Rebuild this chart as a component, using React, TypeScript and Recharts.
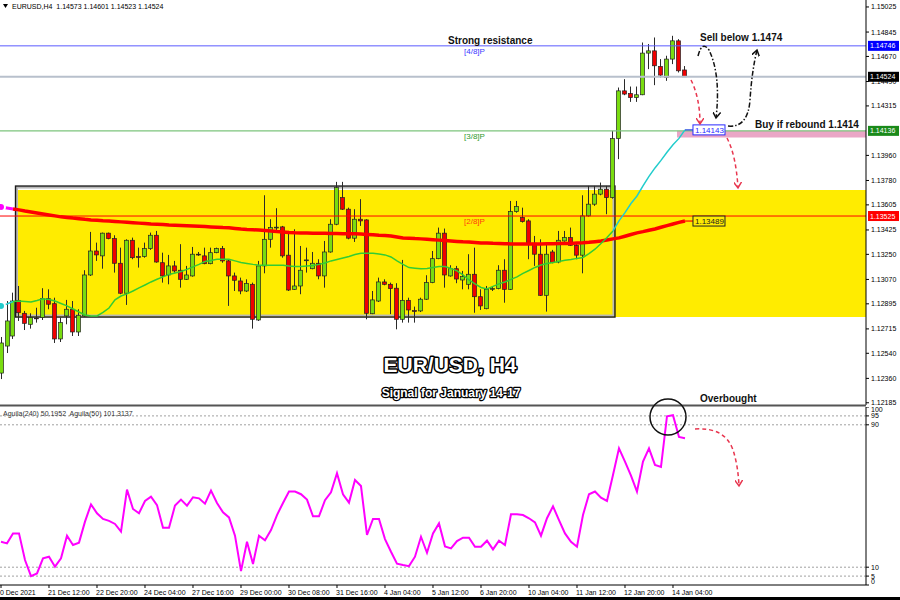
import React from 'react';
import { ComposedChart, Bar, Line, XAxis, YAxis, ReferenceLine, ReferenceArea, ReferenceDot } from 'recharts';

// ---- EURUSD H4 candles (oldest -> newest) ----
const opens = [
  1.12398, 1.12592, 1.12664, 1.12920, 1.12827, 1.12748, 1.12793, 1.12796, 1.12932, 1.12896,
  1.12643, 1.12808, 1.12856, 1.12693, 1.12808, 1.13102, 1.13274, 1.13239, 1.13402, 1.13363,
  1.13186, 1.12971, 1.13351, 1.13234, 1.13234, 1.13291, 1.13387, 1.13190, 1.13102, 1.13167,
  1.13136, 1.13071, 1.13095, 1.13251, 1.13239, 1.13183, 1.13262, 1.13291, 1.13203, 1.13095,
  1.13059, 1.12987, 1.13035, 1.12779, 1.13167, 1.13358, 1.13442, 1.13447, 1.13244, 1.12999,
  1.13023, 1.13208, 1.13147, 1.13186, 1.13095, 1.13267, 1.13466, 1.13657, 1.13574, 1.13366,
  1.13502, 1.13497, 1.12824, 1.12915, 1.13052, 1.13035, 1.13007, 1.12784, 1.12920, 1.12846,
  1.12844, 1.12928, 1.13047, 1.13219, 1.13402, 1.13095, 1.13147, 1.13066, 1.13035, 1.13107,
  1.12946, 1.12860, 1.13002, 1.13004, 1.13136, 1.12999, 1.13557, 1.13514, 1.13490, 1.13330,
  1.13251, 1.12956, 1.13267, 1.13195, 1.13346, 1.13370, 1.13315, 1.13244, 1.13526, 1.13610,
  1.13682, 1.13717, 1.13657, 1.14081, 1.14423, 1.14404, 1.14375, 1.14395, 1.14694, 1.14710,
  1.14598, 1.14519, 1.14651, 1.14782, 1.14573,
];
const highs = [
  1.12657, 1.12915, 1.12975, 1.13023, 1.12844, 1.12827, 1.12867, 1.13007, 1.12999, 1.12939,
  1.12796, 1.12923, 1.12915, 1.12856, 1.13136, 1.13411, 1.13334, 1.13406, 1.13406, 1.13387,
  1.13298, 1.13358, 1.13370, 1.13298, 1.13334, 1.13406, 1.13418, 1.13262, 1.13246, 1.13203,
  1.13323, 1.13167, 1.13303, 1.13267, 1.13298, 1.13298, 1.13298, 1.13310, 1.13215, 1.13119,
  1.13083, 1.13071, 1.13047, 1.13203, 1.13674, 1.13502, 1.13581, 1.13454, 1.13418, 1.13430,
  1.13310, 1.13298, 1.13267, 1.13215, 1.13346, 1.13502, 1.13770, 1.13770, 1.13585, 1.13574,
  1.13646, 1.13502, 1.12987, 1.13083, 1.13071, 1.13047, 1.13043, 1.13210, 1.12939, 1.12875,
  1.12939, 1.13100, 1.13274, 1.13442, 1.13435, 1.13172, 1.13167, 1.13131, 1.13251, 1.13298,
  1.12999, 1.13023, 1.13018, 1.13172, 1.13215, 1.13633, 1.13633, 1.13585, 1.13502, 1.13382,
  1.13358, 1.13334, 1.13282, 1.13418, 1.13418, 1.13442, 1.13334, 1.13674, 1.13741, 1.13741,
  1.13765, 1.13741, 1.14136, 1.14447, 1.14507, 1.14454, 1.14454, 1.14770, 1.14759, 1.14806,
  1.14651, 1.14675, 1.14818, 1.14794, 1.14601,
];
const lows = [
  1.12355, 1.12542, 1.12643, 1.12772, 1.12707, 1.12717, 1.12760, 1.12779, 1.12856, 1.12614,
  1.12621, 1.12748, 1.12664, 1.12664, 1.12803, 1.13095, 1.13203, 1.13147, 1.13358, 1.13119,
  1.12964, 1.12887, 1.13215, 1.13155, 1.13226, 1.13282, 1.13190, 1.13047, 1.13035, 1.13119,
  1.13011, 1.13066, 1.13090, 1.13239, 1.13179, 1.13179, 1.13258, 1.13190, 1.12880, 1.12987,
  1.12964, 1.12980, 1.12717, 1.12772, 1.13114, 1.13298, 1.13418, 1.13226, 1.12987, 1.12995,
  1.12964, 1.13119, 1.13143, 1.13071, 1.13011, 1.13262, 1.13459, 1.13569, 1.13358, 1.13339,
  1.13454, 1.12784, 1.12821, 1.12908, 1.13028, 1.12821, 1.12712, 1.12760, 1.12760, 1.12760,
  1.12836, 1.12923, 1.13043, 1.13215, 1.13011, 1.13090, 1.13043, 1.12999, 1.12999, 1.12831,
  1.12851, 1.12856, 1.12987, 1.12999, 1.12903, 1.12994, 1.13549, 1.13478, 1.13215, 1.13167,
  1.12951, 1.12839, 1.13186, 1.13186, 1.13341, 1.13310, 1.13215, 1.13114, 1.13521, 1.13598,
  1.13674, 1.13538, 1.13650, 1.13933, 1.14392, 1.14344, 1.14344, 1.14392, 1.14579, 1.14464,
  1.14519, 1.14495, 1.14615, 1.14555, 1.14523,
];
const closes = [
  1.12614, 1.12772, 1.12915, 1.12831, 1.12755, 1.12796, 1.12790, 1.12932, 1.12892, 1.12643,
  1.12760, 1.12856, 1.12693, 1.12813, 1.13102, 1.13274, 1.13246, 1.13402, 1.13363, 1.13186,
  1.12971, 1.13351, 1.13226, 1.13231, 1.13291, 1.13387, 1.13195, 1.13095, 1.13167, 1.13131,
  1.13071, 1.13102, 1.13251, 1.13247, 1.13183, 1.13262, 1.13291, 1.13203, 1.13095, 1.13064,
  1.12987, 1.13040, 1.12784, 1.13167, 1.13358, 1.13442, 1.13445, 1.13239, 1.12994, 1.13023,
  1.13136, 1.13210, 1.13186, 1.13095, 1.13267, 1.13466, 1.13729, 1.13574, 1.13366, 1.13502,
  1.13490, 1.12827, 1.12923, 1.13052, 1.13035, 1.13004, 1.12784, 1.12920, 1.12851, 1.12842,
  1.12928, 1.13047, 1.13219, 1.13402, 1.13102, 1.13147, 1.13073, 1.13090, 1.13107, 1.12946,
  1.12880, 1.12999, 1.13005, 1.13136, 1.12999, 1.13557, 1.13593, 1.13485, 1.13330, 1.13251,
  1.12956, 1.13251, 1.13190, 1.13351, 1.13370, 1.13315, 1.13244, 1.13526, 1.13610, 1.13682,
  1.13717, 1.13657, 1.14081, 1.14423, 1.14400, 1.14375, 1.14395, 1.14694, 1.14710, 1.14603,
  1.14536, 1.14651, 1.14782, 1.14567, 1.14524,
];
// slow moving average (red)
const maSlow = [
  1.13590, 1.13583, 1.13576, 1.13569, 1.13561, 1.13554, 1.13547, 1.13540, 1.13533, 1.13526,
  1.13519, 1.13515, 1.13510, 1.13506, 1.13501, 1.13497, 1.13494, 1.13491, 1.13489, 1.13486,
  1.13483, 1.13480, 1.13477, 1.13474, 1.13471, 1.13468, 1.13466, 1.13464, 1.13461, 1.13459,
  1.13457, 1.13455, 1.13453, 1.13451, 1.13449, 1.13447, 1.13445, 1.13442, 1.13440, 1.13436,
  1.13432, 1.13429, 1.13427, 1.13424, 1.13421, 1.13418, 1.13414, 1.13411, 1.13407, 1.13405,
  1.13404, 1.13403, 1.13402, 1.13402, 1.13401, 1.13400, 1.13399, 1.13398, 1.13397, 1.13397,
  1.13396, 1.13393, 1.13390, 1.13387, 1.13385, 1.13382, 1.13375, 1.13368, 1.13366, 1.13363,
  1.13361, 1.13358, 1.13355, 1.13352, 1.13349, 1.13346, 1.13343, 1.13340, 1.13338, 1.13335,
  1.13332, 1.13331, 1.13329, 1.13328, 1.13326, 1.13325, 1.13325, 1.13325, 1.13325, 1.13325,
  1.13325, 1.13326, 1.13326, 1.13327, 1.13327, 1.13328, 1.13331, 1.13333, 1.13336, 1.13341,
  1.13346, 1.13353, 1.13361, 1.13368, 1.13380, 1.13392, 1.13404, 1.13413, 1.13423, 1.13432,
  1.13444, 1.13456, 1.13468, 1.13479, 1.13489,
];
// fast moving average (green / cyan)
const maFast = [
  1.12880, 1.12894, 1.12912, 1.12915, 1.12912, 1.12908, 1.12919, 1.12932, 1.12926, 1.12915,
  1.12897, 1.12880, 1.12858, 1.12836, 1.12815, 1.12808, 1.12808, 1.12833, 1.12865, 1.12923,
  1.12951, 1.12966, 1.12987, 1.13009, 1.13030, 1.13052, 1.13071, 1.13088, 1.13106, 1.13116,
  1.13127, 1.13142, 1.13160, 1.13178, 1.13199, 1.13206, 1.13215, 1.13215, 1.13215, 1.13203,
  1.13192, 1.13185, 1.13178, 1.13172, 1.13172, 1.13172, 1.13172, 1.13172, 1.13167, 1.13163,
  1.13163, 1.13167, 1.13170, 1.13178, 1.13188, 1.13203, 1.13213, 1.13224, 1.13235, 1.13249,
  1.13258, 1.13258, 1.13258, 1.13253, 1.13246, 1.13231, 1.13203, 1.13178, 1.13155, 1.13151,
  1.13147, 1.13149, 1.13156, 1.13163, 1.13163, 1.13149, 1.13131, 1.13102, 1.13066, 1.13038,
  1.13012, 1.13002, 1.13020, 1.13038, 1.13052, 1.13070, 1.13088, 1.13113, 1.13134, 1.13156,
  1.13174, 1.13185, 1.13192, 1.13199, 1.13208, 1.13213, 1.13221, 1.13228, 1.13256, 1.13287,
  1.13328, 1.13371, 1.13418, 1.13490, 1.13549, 1.13615, 1.13669, 1.13741, 1.13809, 1.13870,
  1.13924, 1.13982, 1.14036, 1.14082, 1.14143,
];
// Aguila oscillator (lower panel)
const aguila = [
  24.3, 23.4, 29.0, 29.0, 14.0, 5.0, 6.5, 15.0, 15.9, 10.3,
  15.0, 27.7, 22.5, 23.8, 35.6, 45.3, 40.3, 37.1, 36.0, 34.3,
  30.0, 53.6, 42.7, 40.3, 47.2, 49.6, 44.9, 32.2, 32.2, 44.6,
  48.0, 44.6, 49.3, 48.7, 45.7, 53.0, 46.1, 40.8, 38.0, 27.7,
  7.8, 24.3, 11.8, 27.7, 25.1, 30.9, 39.3, 46.1, 52.5, 52.5,
  51.0, 48.0, 38.6, 38.6, 47.6, 52.1, 62.8, 51.0, 46.3, 59.0,
  55.6, 28.1, 37.1, 37.1, 25.8, 18.7, 12.0, 11.2, 10.6, 15.9,
  27.1, 18.1, 29.0, 34.6, 21.7, 20.6, 24.7, 26.6, 26.6, 21.5,
  21.5, 24.9, 20.0, 24.9, 22.5, 39.7, 39.7, 39.3, 37.5, 35.2,
  27.7, 37.5, 44.2, 36.5, 29.0, 24.3, 21.5, 39.3, 51.0, 52.5,
  49.1, 47.2, 61.8, 76.8, 69.3, 61.5, 52.5, 69.3, 76.8, 67.5,
  66.3, 94.8, 95.4, 83.2, 82.5,
];
const dateTickIdx = [0, 8, 16, 24, 32, 40, 48, 56, 64, 72, 80, 88, 96, 104, 112];
const dateTickLabels = [
  '20 Dec 2021', '21 Dec 12:00', '22 Dec 20:00', '24 Dec 04:00', '27 Dec 16:00',
  '29 Dec 00:00', '30 Dec 08:00', '31 Dec 16:00', '4 Jan 04:00', '5 Jan 12:00',
  '6 Jan 20:00', '10 Jan 04:00', '11 Jan 12:00', '12 Jan 20:00', '14 Jan 04:00',
];
const priceTicks = [
  1.15025, 1.14845, 1.14670, 1.14490, 1.14315, 1.13960, 1.13780, 1.13605,
  1.13425, 1.13250, 1.13070, 1.12895, 1.12715, 1.12540, 1.12360, 1.12185,
];
const oscTicks = [0, 5, 10, 90, 95, 100];
const oscLevels = [95, 90, 10, 5];
// horizontal levels
const levelResist = 1.14746; // [4/8]P
const levelBid = 1.14524;
const levelSupport = 1.14136; // [3/8]P
const levelMid = 1.13525; // [2/8]P
const rangeBoxTop = 1.13740;
const rangeBoxBottom = 1.12800;
const rangeZoneTop = 1.13712;
const buyZoneTop = 1.14136;
const buyZoneBottom = 1.14088;
const rangeStartIdx = 2.42;
const rangeEndIdx = 102.33;
const buyZoneStartIdx = 112.67;

const X_MIN = -0.1667;
const X_MAX = 144.17;
const P_MIN = 1.12169;
const P_MAX = 1.15075;
const FONT = '"Liberation Sans", Arial, sans-serif';

const rows = opens.map((o, i) => ({
  i,
  o,
  h: highs[i],
  l: lows[i],
  c: closes[i],
  range: [lows[i], highs[i]],
  maSlowHead: i <= 2 ? maSlow[i] : null,
  maSlow: i >= 2 ? maSlow[i] : null,
  maGreen: i >= 2 && i <= 102 ? maFast[i] : null,
  maCyan: i <= 2 || i >= 102 ? maFast[i] : null,
  ag: aguila[i],
}));
const last = rows.length - 1;

const Candle = (props: any) => {
  const { x, y, width, height, payload } = props;
  if (!payload || payload.o == null) return null;
  const { o, h, l, c } = payload;
  const top = Math.min(y, y + height);
  const bottom = Math.max(y, y + height);
  const span = h - l;
  const pix = (v: number) => (span > 0 ? top + ((h - v) / span) * (bottom - top) : top);
  const cx = Math.round(x + width / 2) + 0.5;
  const yo = pix(o);
  const yc = pix(c);
  const bt = Math.min(yo, yc);
  const bb = Math.max(yo, yc);
  const up = c >= o;
  return (
    <g>
      <line x1={cx} x2={cx} y1={top} y2={bottom} stroke="#2a2a2a" strokeWidth={1} />
      <rect x={cx - 2} y={bt} width={4} height={Math.max(bb - bt, 0.8)} fill={up ? '#79dc10' : '#f00000'} stroke="#222" strokeWidth={0.7} />
    </g>
  );
};

const LevelLabel = (props: any) => {
  const { viewBox, value, bg, text, textColor } = props;
  if (!viewBox) return null;
  const y = viewBox.y;
  const x0 = viewBox.x + viewBox.width + 2;
  return (
    <g>
      {text ? (
        <text x={464} y={y + 8} fontSize={8} fill={textColor} fontFamily={FONT}>{text}</text>
      ) : null}
      <rect x={x0} y={y - 5} width={31} height={10} fill={bg} />
      <text x={x0 + 2} y={y + 2.6} fontSize={7} fill="#fff" fontFamily={FONT}>{value.toFixed(5)}</text>
    </g>
  );
};

const RangeBox = (props: any) => {
  const { x, y, width, height } = props;
  return (
    <g>
      <rect x={x + 1.5} y={y + 1.5} width={width - 3} height={height - 3} fill="none" stroke="#b8b8b8" strokeWidth={2} />
      <rect x={x} y={y} width={width} height={height} fill="none" stroke="#1a1a1a" strokeWidth={1.4} />
    </g>
  );
};

const EndTag = (color: string, border: string, bg: string, value: number) => (props: any) => {
  const { cx, cy } = props;
  if (cx == null) return null;
  return (
    <g>
      <line x1={cx} x2={cx + 8} y1={cy} y2={cy} stroke={color} strokeWidth={1.2} />
      <rect x={cx + 8} y={cy - 5} width={32} height={10} fill={bg} stroke={border} strokeWidth={1} />
      <text x={cx + 10} y={cy + 3} fontSize={8} fill={border} fontFamily={FONT}>{value.toFixed(5)}</text>
    </g>
  );
};

const DateTick = (props: any) => {
  const { x, y, payload } = props;
  const k = dateTickIdx.indexOf(payload.value);
  const label = k >= 0 ? dateTickLabels[k] : '';
  return (
    <text x={k === 0 ? x - 5 : x - 1} y={y + 5} fontSize={7} fill="#000" textAnchor="start" fontFamily={FONT}>
      {label}
    </text>
  );
};

const OscTick = (props: any) => {
  const { x, y, payload } = props;
  const v = payload.value;
  const dy = v === 100 ? 5 : v === 0 ? -1 : 2.5;
  return (
    <text x={x} y={y + dy} fontSize={7} fill="#000" textAnchor="start" fontFamily={FONT}>{v}</text>
  );
};

export default function App() {
  return (
    <div style={{ position: 'absolute', left: 0, top: 0, width: 900, height: 600, background: '#fff', overflow: 'hidden', fontFamily: FONT }}>
      <div style={{ position: 'absolute', left: 0, top: 0 }}>
        <ComposedChart width={900} height={405} data={rows} margin={{ top: 0, right: 0, bottom: 0, left: 0 }}>
          <XAxis type="number" dataKey="i" domain={[X_MIN, X_MAX]} hide allowDataOverflow />
          <YAxis
            orientation="right"
            width={34}
            domain={[P_MIN, P_MAX]}
            allowDataOverflow
            ticks={priceTicks}
            interval={0}
            tickFormatter={(v: number) => v.toFixed(5)}
            tick={{ fontSize: 7, fill: '#000', fontFamily: FONT }}
            tickSize={3}
            tickMargin={2}
            stroke="#000"
          />
          <ReferenceArea x1={rangeStartIdx} x2={X_MAX} y1={rangeBoxBottom} y2={rangeZoneTop} fill="#ffec00" fillOpacity={1} stroke="none" ifOverflow="visible" />
          <ReferenceArea x1={buyZoneStartIdx} x2={X_MAX} y1={buyZoneBottom} y2={buyZoneTop} fill="#eaa6c6" fillOpacity={1} stroke="none" ifOverflow="visible" />
          <ReferenceArea x1={rangeStartIdx} x2={rangeEndIdx} y1={rangeBoxBottom} y2={rangeBoxTop} shape={<RangeBox />} ifOverflow="visible" />
          <ReferenceLine y={levelResist} stroke="#5a5aff" strokeWidth={1} label={<LevelLabel value={levelResist} bg="#0000ff" text="[4/8]P" textColor="#3a3aff" />} />
          <ReferenceLine y={levelBid} stroke="#b8c0cc" strokeWidth={2} label={<LevelLabel value={levelBid} bg="#000000" />} />
          <ReferenceLine y={levelSupport} stroke="#7cc47c" strokeWidth={1.2} label={<LevelLabel value={levelSupport} bg="#1a8a1a" text="[3/8]P" textColor="#2e9a2e" />} />
          <ReferenceLine y={levelMid} stroke="#ff0000" strokeWidth={1} label={<LevelLabel value={levelMid} bg="#ff0000" text="[2/8]P" textColor="#ff3b10" />} />
          <Bar dataKey="range" barSize={5} shape={<Candle />} isAnimationActive={false} />
          <Line type="linear" dataKey="maSlowHead" stroke="#ff00ff" strokeWidth={3} dot={false} isAnimationActive={false} />
          <Line type="linear" dataKey="maSlow" stroke="#ff0000" strokeWidth={3.5} dot={false} isAnimationActive={false} />
          <Line type="linear" dataKey="maGreen" stroke="#33cc33" strokeWidth={1.5} dot={false} isAnimationActive={false} />
          <Line type="linear" dataKey="maCyan" stroke="#22cccc" strokeWidth={1.5} dot={false} isAnimationActive={false} />
          <ReferenceDot x={last} y={maFast[last]} r={1} shape={EndTag('#2244dd', '#2a2aff', '#ffffff', maFast[last])} ifOverflow="visible" />
          <ReferenceDot x={last} y={maSlow[last]} r={1} shape={EndTag('#ff0000', '#222222', '#ffec00', maSlow[last])} ifOverflow="visible" />
        </ComposedChart>
      </div>
      <div style={{ position: 'absolute', left: 0, top: 407 }}>
        <ComposedChart width={900} height={193} data={rows} margin={{ top: 0, right: 0, bottom: 0, left: 0 }}>
          <XAxis
            type="number"
            dataKey="i"
            domain={[X_MIN, X_MAX]}
            allowDataOverflow
            ticks={dateTickIdx}
            interval={0}
            height={15}
            tickSize={3}
            tickMargin={2}
            tick={<DateTick />}
            stroke="#000"
          />
          <YAxis
            orientation="right"
            width={34}
            domain={[0, 100]}
            allowDataOverflow
            ticks={oscTicks}
            interval={0}
            tick={<OscTick />}
            tickSize={3}
            tickMargin={2}
            stroke="#000"
          />
          {oscLevels.map((v) => (
            <ReferenceLine key={v} y={v} stroke="#a0a0a0" strokeDasharray="2 2" strokeWidth={1} />
          ))}
          <Line type="linear" dataKey="ag" stroke="#ff00ff" strokeWidth={2} dot={false} isAnimationActive={false} />
        </ComposedChart>
      </div>
      <svg width={900} height={600} style={{ position: 'absolute', left: 0, top: 0, pointerEvents: 'none' }}>
        <defs>
          <marker id="headRed" markerWidth="8" markerHeight="8" refX="6" refY="4" orient="auto" markerUnits="userSpaceOnUse">
            <path d="M0,0 L6,4 L0,8" fill="none" stroke="#e8364f" strokeWidth="1.5" />
          </marker>
          <marker id="headBlack" markerWidth="8" markerHeight="8" refX="6" refY="4" orient="auto" markerUnits="userSpaceOnUse">
            <path d="M0,0 L6,4 L0,8" fill="none" stroke="#111" strokeWidth="1.5" />
          </marker>
        </defs>
        {/* header */}
        <polygon points="3,4 8,4 5.5,8" fill="#000" />
        <text x={12} y={9} fontSize={7} fill="#000" fontFamily={FONT} style={{ whiteSpace: 'pre' }}>
          EURUSD,H4  1.14573 1.14601 1.14523 1.14524
        </text>
        {/* panel separator */}
        <line x1={0} x2={866} y1={405.5} y2={405.5} stroke="#555" strokeWidth={2} />
        <text x={3} y={416} fontSize={7} fill="#333" fontFamily={FONT} style={{ whiteSpace: 'pre' }}>
          Aguila(240) 50.1952  Aguila(50) 101.3137
        </text>
        <rect x={0} y={597} width={900} height={3} fill="#000" />
        {/* titles */}
        <text x={450} y={372} textAnchor="middle" fontSize={21} fontWeight="bold" fill="#fff" stroke="#000" strokeWidth={3} strokeLinejoin="round" style={{ paintOrder: 'stroke' }} fontFamily={FONT}>
          EUR/USD, H4
        </text>
        <text x={451} y={397} textAnchor="middle" fontSize={12} fontWeight="bold" fill="#fff" stroke="#000" strokeWidth={2.5} strokeLinejoin="round" style={{ paintOrder: 'stroke' }} fontFamily={FONT}>
          Signal for January 14-17
        </text>
        {/* annotations */}
        <text x={448} y={44} fontSize={10} fontWeight="bold" fill="#111" fontFamily={FONT}>Strong resistance</text>
        <text x={700} y={41} fontSize={10} fontWeight="bold" fill="#111" fontFamily={FONT}>Sell below 1.1474</text>
        <text x={755} y={128} fontSize={10} fontWeight="bold" fill="#111" fontFamily={FONT}>Buy if rebound 1.1414</text>
        <text x={700} y={402} fontSize={10} fontWeight="bold" fill="#111" fontFamily={FONT}>Overbought</text>
        <path d="M 691 80 Q 700 98 700 124" fill="none" stroke="#e8364f" strokeWidth={1.5} strokeDasharray="4 3" markerEnd="url(#headRed)" />
        <path d="M 727 138 Q 736 155 738 188" fill="none" stroke="#e8364f" strokeWidth={1.5} strokeDasharray="4 3" markerEnd="url(#headRed)" />
        <path d="M 695 429 Q 725 427 733 450 Q 738 465 739 486" fill="none" stroke="#e8364f" strokeWidth={1.5} strokeDasharray="4 3" markerEnd="url(#headRed)" />
        <path d="M 698 56 Q 702 40 709 50 Q 721 75 716 118" fill="none" stroke="#111" strokeWidth={1.5} strokeDasharray="5 2 1.5 2" markerEnd="url(#headBlack)" />
        <path d="M 728 126 Q 748 128 750 100 Q 752 70 757 50" fill="none" stroke="#111" strokeWidth={1.5} strokeDasharray="5 2 1.5 2" markerEnd="url(#headBlack)" />
        <circle cx={668} cy={417} r={18} fill="none" stroke="#111" strokeWidth={1.5} />
      </svg>
    </div>
  );
}
